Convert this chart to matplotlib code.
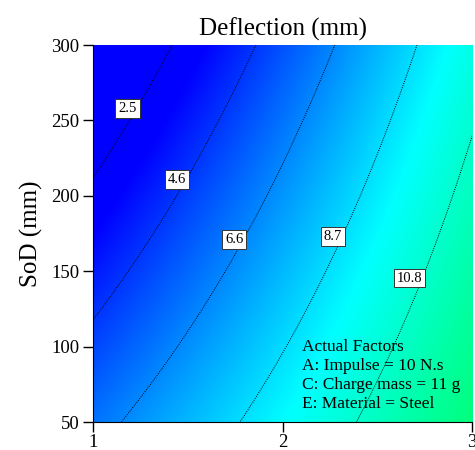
import matplotlib
matplotlib.use("Agg")
import matplotlib.pyplot as plt
import numpy as np
from matplotlib.colors import LinearSegmentedColormap

plt.rcParams['font.family'] = ['Liberation Serif', 'DejaVu Serif']

# points: (B: range, SoD) pairs
levels = [2.5, 4.6, 6.6, 8.7, 10.8]
line_x = [
    [1.422, 1.211, 1.000],
    [1.855, 1.707, 1.470, 1.338, 1.000],
    [2.277, 1.987, 1.839, 1.686, 1.422, 1.153],
    [2.710, 2.515, 2.330, 1.987, 1.776],
    [3.000, 2.842, 2.710, 2.393],
]
line_y = [
    [300.0, 254.9, 210.5],
    [300.0, 261.5, 208.5, 178.6, 119.6],
    [300.0, 215.1, 178.6, 146.2, 95.8, 50.0],
    [300.0, 237.0, 177.3, 95.8, 50.0],
    [238.3, 178.6, 138.9, 50.0],
]
# SoD where each contour label sits
label_y = [258.0, 211.0, 171.0, 173.0, 145.5]

factors = ["Actual Factors", "A: Impulse = 10 N.s",
           "C: Charge mass = 11 g", "E: Material = Steel"]

# quadratic response surface fitted through the contour points
xs = np.concatenate(line_x)
ys = np.concatenate(line_y)
zs = np.concatenate([[lv] * len(px) for lv, px in zip(levels, line_x)])

def terms(x, y):
    return np.stack([np.ones_like(x), x, y, x * y, x ** 2, y ** 2], axis=-1)

coef, *_ = np.linalg.lstsq(terms(xs, ys), zs, rcond=None)

def model(x, y):
    return terms(x, y) @ coef

gx = np.linspace(1, 3, 300)
gy = np.linspace(50, 300, 300)
X, Y = np.meshgrid(gx, gy)
Z = model(X, Y)

cmap = LinearSegmentedColormap.from_list(
    "de", [(0.0, (0, 0, 1)), (0.48, (0, 1, 1)), (1.0, (0, 1, 0))])

fig = plt.figure(figsize=(4.75, 4.5), dpi=100)
ax = fig.add_axes([0.196, 0.062, 0.798, 0.838])
ax.imshow(Z, origin='lower', extent=[1, 3, 50, 300], aspect='auto',
          cmap=cmap, vmin=3.3, vmax=16.2, interpolation='bilinear')
ax.contour(X, Y, Z, levels=levels, colors='black', linewidths=0.7,
           linestyles=[(0, (1, 1.3))])

# boxed level labels sitting just left of each line
for lv, ly in zip(levels, label_y):
    row = model(gx, np.full_like(gx, ly))
    lx = np.interp(lv, row, gx)
    ax.text(lx, ly, f"{lv:g}", ha='right', va='center', fontsize=10.5,
            bbox=dict(boxstyle='square,pad=0.2', fc='white', ec='#333333',
                      lw=0.7), zorder=5)

ax.text(2.1, 57, "\n".join(factors), fontsize=12.5, va='bottom',
        ha='left', linespacing=1.25)

ax.set_xlim(1, 3)
ax.set_ylim(50, 300)
ax.set_xticks([1, 2, 3])
ax.set_yticks([50, 100, 150, 200, 250, 300])
ax.tick_params(labelsize=13.5, length=7, width=1, pad=3, direction='out')
ax.tick_params(axis='x', pad=1.5)
ax.spines['top'].set_visible(False)
ax.spines['right'].set_visible(False)
ax.set_title("Deflection (mm)", fontsize=18, pad=7)
ax.set_ylabel("SoD (mm)", fontsize=18, labelpad=6)

fig.savefig("out.png", dpi=100)
